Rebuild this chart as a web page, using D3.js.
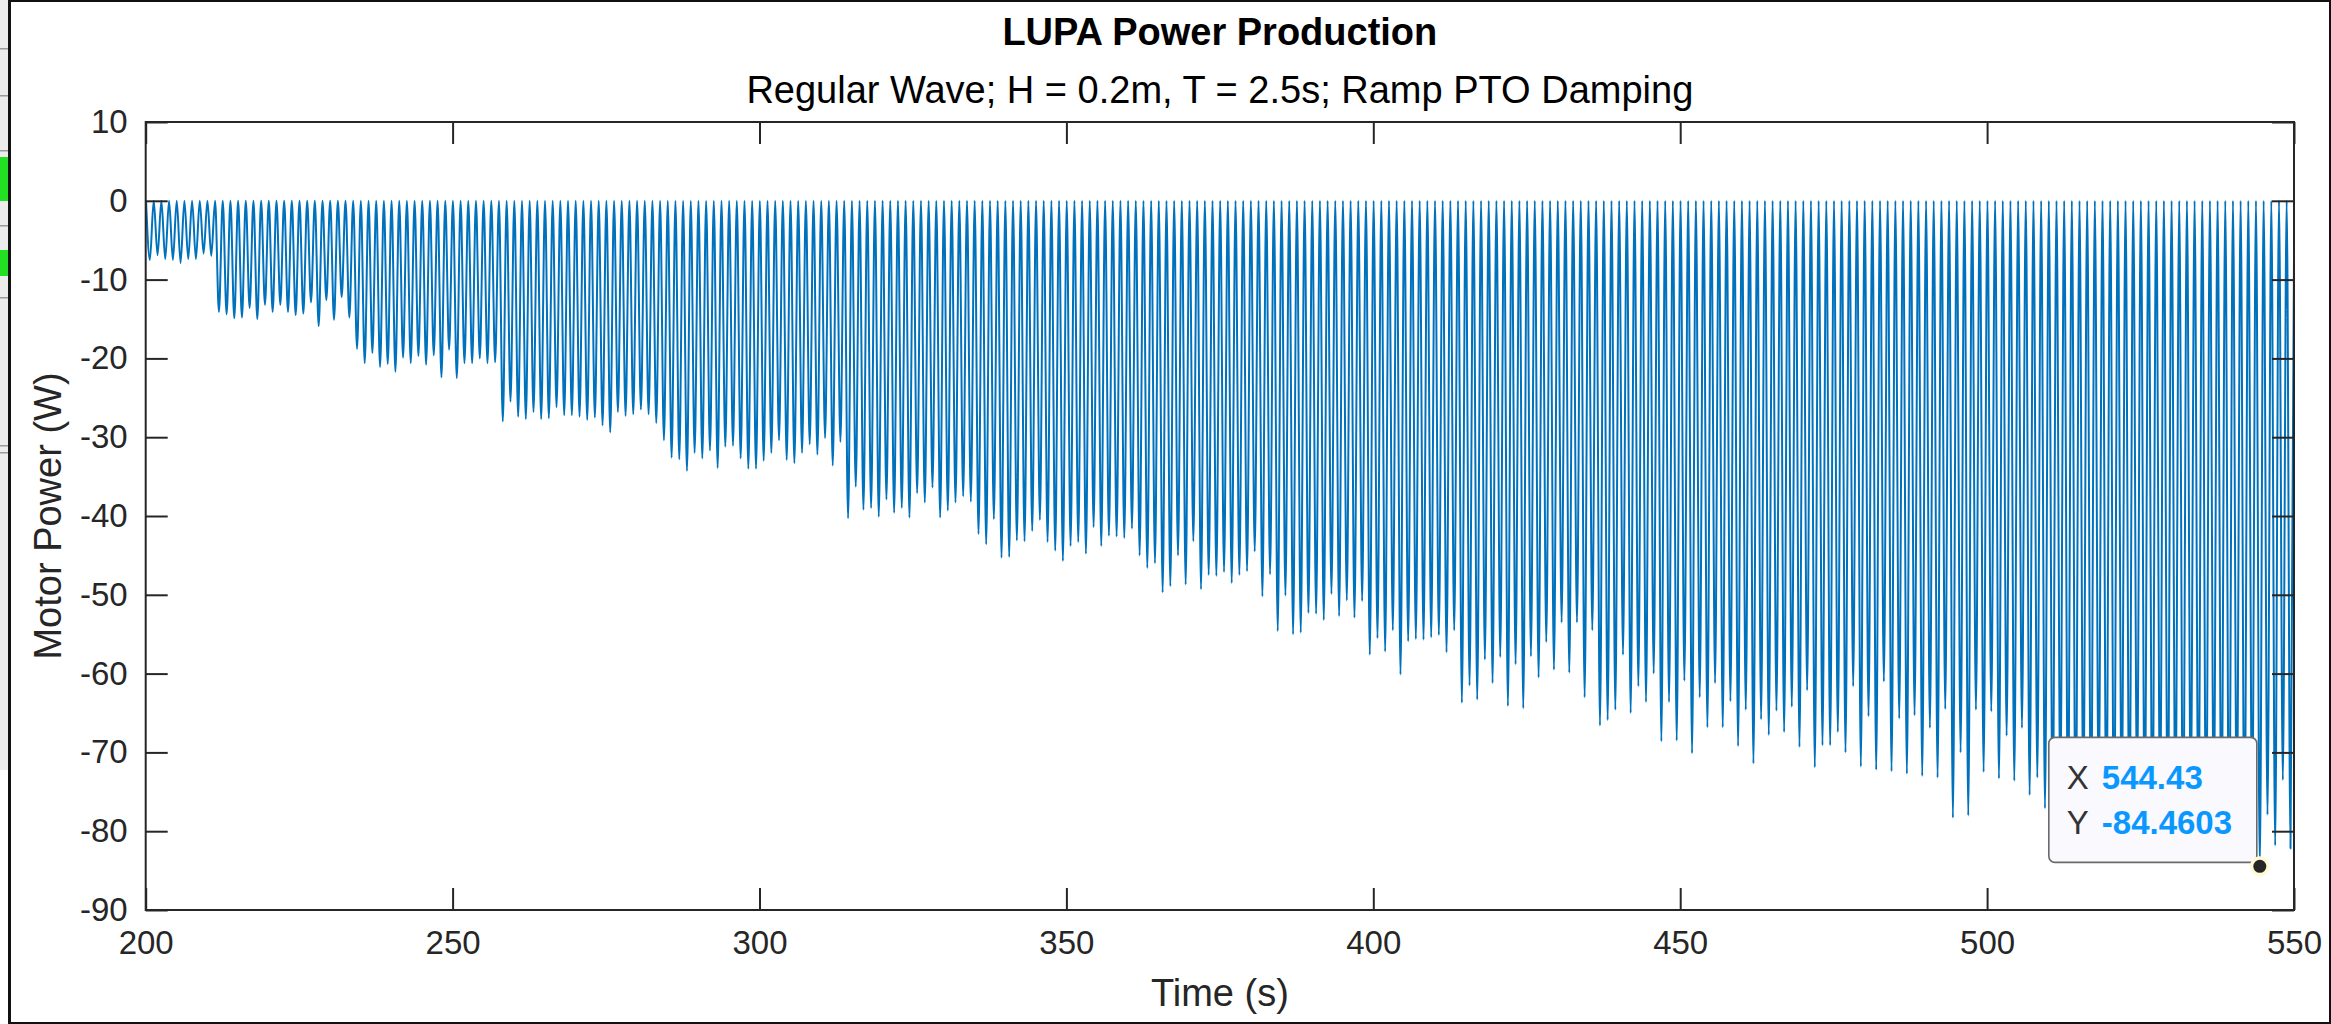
<!DOCTYPE html>
<html>
<head>
<meta charset="utf-8">
<script src="https://cdn.jsdelivr.net/npm/d3@7"></script>
<style>
  html, body { margin: 0; padding: 0; background: #ffffff; }
  svg { display: block; }
  text { font-family: "Liberation Sans", Arial, Helvetica, sans-serif; }
</style>
</head>
<body>
<svg id="chart" width="2331" height="1024"></svg>
<script>
// ---- Labels -------------------------------------------------------------
const titleText    = "LUPA Power Production";
const subtitleText = "Regular Wave; H = 0.2m, T = 2.5s; Ramp PTO Damping";
const xLabelText   = "Time (s)";
const yLabelText   = "Motor Power (W)";

// ---- Axis ticks ---------------------------------------------------------
const xTickValues = [200, 250, 300, 350, 400, 450, 500, 550];
const yTickValues = [10, 0, -10, -20, -30, -40, -50, -60, -70, -80, -90];
const xDomain = [200, 550];
const yDomain = [-90, 10];

// ---- Signal: motor power troughs, one per half wave period -------------
const firstTroughTime = 200.68;   // s
const troughSpacing   = 1.25;     // s (half of the 2.5 s wave period)

// power minimum (W) of each oscillation, grouped by PTO damping stage
const troughsStage0 = [-7.5, -6.9, -7.4, -7.5, -7.9, -7.4, -7.4, -6.7, -7.0];
const troughsStage1 = [-14.1, -14.4, -14.9, -14.8, -13.6, -15.0, -13.2, -14.1, -13.2,
                       -14.1, -14.5, -14.3, -12.9, -15.9, -12.6, -15.1, -12.2, -14.8];
const troughsStage2 = [-18.8, -20.6, -19.3, -21.1, -20.7, -21.7, -19.9, -20.6, -19.7, -20.8,
                       -19.6, -22.4, -18.9, -22.5, -20.6, -20.6, -20.0, -20.6, -20.5];
const troughsStage3 = [-28.0, -25.5, -27.4, -27.7, -26.8, -27.7, -27.6, -26.2, -27.2, -27.2, -27.4,
                       -27.8, -27.5, -28.5, -29.4, -26.8, -27.3, -27.1, -26.5, -27.1, -28.2];
const troughsStage4 = [-30.4, -32.6, -32.8, -34.3, -32.0, -32.7, -31.7, -33.9, -31.2, -31.1, -32.7, -34.0,
                       -34.0, -33.0, -32.0, -30.4, -32.9, -33.3, -32.0, -30.9, -32.2, -30.1, -33.6, -30.6];
const troughsStage5 = [-40.3, -36.3, -39.2, -39.0, -40.1, -37.9, -39.6, -39.0, -40.2, -37.1, -38.3,
                       -36.4, -40.2, -39.3, -38.3, -37.5, -38.2];
const troughsStage6 = [-42.3, -43.6, -40.4, -45.3, -45.2, -43.1, -43.2, -41.9, -40.5, -43.3, -44.4, -45.7,
                       -43.8, -43.3, -44.8, -41.4, -43.8, -42.5, -42.6, -42.8, -41.6, -45.0, -46.6, -46.0];
const troughsStage7 = [-49.7, -48.9, -45.0, -48.7, -43.2, -49.3, -47.5, -47.6, -47.1, -48.5, -47.5, -47.0,
                       -44.5, -50.2, -47.4];
const troughsStage8 = [-54.6, -50.1, -55.0, -54.8, -52.3, -52.4, -53.2, -49.9, -52.7, -50.7, -52.9, -50.8];
const troughsStage9 = [-57.6, -55.5, -57.2, -54.5, -60.1, -55.9, -55.6, -55.7, -55.4, -55.1, -57.3, -54.5];
const troughsStage10 = [-63.7, -61.5, -63.3, -58.2, -61.2, -57.9, -64.1, -58.8, -64.4, -57.8, -60.5, -56.0,
                        -59.5, -53.5, -59.9, -53.5, -63.0, -54.5];
const troughsStage11 = [-66.6, -65.9, -64.6, -57.6, -65.0, -61.6, -63.6, -60.0, -68.6, -63.6, -68.5, -60.9,
                        -70.1, -63.0, -66.8, -61.2, -66.8, -63.5, -69.2, -64.6];
const troughsStage12 = [-71.4, -65.8, -67.8, -64.7, -67.4, -64.2, -69.3, -62.1, -71.9, -69.1, -69.1, -67.4,
                        -70.0, -61.6, -71.8, -65.4, -72.2, -61.0, -72.4, -65.7, -72.7, -65.3, -73.0];
const troughsStage13 = [-66.9, -73.2, -64.5, -78.3, -70.0, -78.0, -64.6, -72.5, -64.8, -73.3, -67.9, -73.6,
                        -66.9, -75.4, -73.2, -77.1];
const troughsStage14 = [-79.5, -74.8, -78.6, -81.2, -76.4, -80.1, -75.3, -79.8, -82.0, -77.2, -80.6, -74.9,
                        -79.1, -81.5, -76.8, -80.3, -78.2, -82.4, -75.6, -79.7, -81.0, -77.5, -80.8, -83.1,
                        -78.4, -81.7, -79.3, -84.4603, -77.9, -81.8, -73.5, -82.2];

// ---- Data tip -----------------------------------------------------------
const tipX = 544.43;
const tipY = -84.4603;

// ---- Layout -------------------------------------------------------------
const W = 2331, H = 1024;
const plot = { left: 145.7, right: 2294, top: 122, bottom: 910 };
const ink = "#262626";
const lineBlue = "#0072BD";

const svg = d3.select("#chart");

const x = d3.scaleLinear().domain(xDomain).range([plot.left, plot.right]);
const y = d3.scaleLinear().domain(yDomain).range([plot.bottom, plot.top]);

// window frame of the figure
svg.append("rect").attr("x", 0).attr("y", 0).attr("width", W).attr("height", H).attr("fill", "#ffffff");
const strip = svg.append("g");
strip.append("rect").attr("x", 0).attr("y", 0).attr("width", 8).attr("height", 770).attr("fill", "#ececec");
strip.append("rect").attr("x", 0).attr("y", 157).attr("width", 8).attr("height", 44).attr("fill", "#22e022");
strip.append("rect").attr("x", 0).attr("y", 250).attr("width", 8).attr("height", 26).attr("fill", "#22e022");
[48, 95, 150, 225, 297, 445, 452].forEach(v =>
  strip.append("rect").attr("x", 0).attr("y", v).attr("width", 8).attr("height", 1.5).attr("fill", "#9a9a9a"));
svg.append("rect").attr("x", 8).attr("y", 0).attr("width", 3).attr("height", H).attr("fill", "#111");
svg.append("rect").attr("x", 8).attr("y", 0).attr("width", W - 8).attr("height", 2).attr("fill", "#111");
svg.append("rect").attr("x", W - 2).attr("y", 0).attr("width", 2).attr("height", H).attr("fill", "#111");
svg.append("rect").attr("x", 8).attr("y", H - 2).attr("width", W - 8).attr("height", 2).attr("fill", "#111");

// ---- Signal path --------------------------------------------------------
const troughs = [].concat(
  troughsStage0, troughsStage1, troughsStage2, troughsStage3, troughsStage4,
  troughsStage5, troughsStage6, troughsStage7, troughsStage8, troughsStage9,
  troughsStage10, troughsStage11, troughsStage12, troughsStage13, troughsStage14
);
const half = troughSpacing / 2;
const points = [];
troughs.forEach((v, i) => {
  const t = firstTroughTime + i * troughSpacing;
  points.push([t - half, 0]);
  points.push([t, v]);
});
points.push([firstTroughTime + (troughs.length - 1) * troughSpacing + half, 0]);

svg.append("clipPath").attr("id", "plotClip")
  .append("rect")
  .attr("x", plot.left).attr("y", plot.top)
  .attr("width", plot.right - plot.left).attr("height", plot.bottom - plot.top);

const line = d3.line()
  .x(d => x(d[0]))
  .y(d => y(d[1]))
  .curve(d3.curveMonotoneX);

svg.append("path")
  .datum(points)
  .attr("clip-path", "url(#plotClip)")
  .attr("fill", "none")
  .attr("stroke", lineBlue)
  .attr("stroke-width", 2.0)
  .attr("stroke-linejoin", "round")
  .attr("d", line);

// ---- Axes (ticks point inward, mirrored on top and right) ---------------
const tickLen = 22;
const tickFont = 33;

const gx = svg.append("g").attr("transform", `translate(0,${plot.bottom})`)
  .call(d3.axisBottom(x).tickValues(xTickValues).tickFormat(d => String(d))
    .tickSizeInner(-tickLen).tickSizeOuter(0).tickPadding(21));
const gxTop = svg.append("g").attr("transform", `translate(0,${plot.top})`)
  .call(d3.axisTop(x).tickValues(xTickValues).tickFormat("")
    .tickSizeInner(-tickLen).tickSizeOuter(0));
const gy = svg.append("g").attr("transform", `translate(${plot.left},0)`)
  .call(d3.axisLeft(y).tickValues(yTickValues).tickFormat(d => String(d))
    .tickSizeInner(-tickLen).tickSizeOuter(0).tickPadding(18));
const gyRight = svg.append("g").attr("transform", `translate(${plot.right},0)`)
  .call(d3.axisRight(y).tickValues(yTickValues).tickFormat("")
    .tickSizeInner(-tickLen).tickSizeOuter(0));

[gx, gxTop, gy, gyRight].forEach(g => {
  g.select(".domain").remove();
  g.selectAll(".tick line").attr("stroke", ink).attr("stroke-width", 2);
  g.selectAll(".tick text")
    .attr("fill", ink)
    .attr("font-size", tickFont)
    .attr("font-family", "'Liberation Sans', Arial, Helvetica, sans-serif");
});

// axes box
svg.append("rect")
  .attr("x", plot.left).attr("y", plot.top)
  .attr("width", plot.right - plot.left).attr("height", plot.bottom - plot.top)
  .attr("fill", "none").attr("stroke", ink).attr("stroke-width", 2);

// ---- Titles and axis labels ---------------------------------------------
const cx = (plot.left + plot.right) / 2;
svg.append("text").attr("x", cx).attr("y", 45)
  .attr("text-anchor", "middle").attr("font-size", 38).attr("font-weight", "bold")
  .attr("fill", "#000").text(titleText);
svg.append("text").attr("x", cx).attr("y", 103)
  .attr("text-anchor", "middle").attr("font-size", 38)
  .attr("fill", "#000").text(subtitleText);
svg.append("text").attr("x", cx).attr("y", 1006)
  .attr("text-anchor", "middle").attr("font-size", 38)
  .attr("fill", ink).text(xLabelText);
svg.append("text")
  .attr("transform", `translate(61,${(plot.top + plot.bottom) / 2}) rotate(-90)`)
  .attr("text-anchor", "middle").attr("font-size", 38)
  .attr("fill", ink).text(yLabelText);

// ---- Data tip -----------------------------------------------------------
const px = x(tipX), py = y(tipY);
const boxW = 208, boxH = 125;
const bx = px - 3 - boxW, by = py - 4 - boxH;
const tip = svg.append("g");
tip.append("rect")
  .attr("x", bx).attr("y", by).attr("width", boxW).attr("height", boxH)
  .attr("rx", 6).attr("ry", 6)
  .attr("fill", "#f9f9fe").attr("stroke", "#6a6a6a").attr("stroke-width", 1.6);
tip.append("text").attr("x", bx + 18).attr("y", by + 52)
  .attr("font-size", 33).attr("fill", "#333").text("X");
tip.append("text").attr("x", bx + 53).attr("y", by + 52)
  .attr("font-size", 33).attr("font-weight", "bold").attr("fill", "#0a98ff").text(String(tipX));
tip.append("text").attr("x", bx + 18).attr("y", by + 97)
  .attr("font-size", 33).attr("fill", "#333").text("Y");
tip.append("text").attr("x", bx + 53).attr("y", by + 97)
  .attr("font-size", 33).attr("font-weight", "bold").attr("fill", "#0a98ff").text(String(tipY));
tip.append("circle").attr("cx", px).attr("cy", py).attr("r", 10).attr("fill", "#fffbd6");
tip.append("circle").attr("cx", px).attr("cy", py).attr("r", 6.5).attr("fill", "#262626");
</script>
</body>
</html>
